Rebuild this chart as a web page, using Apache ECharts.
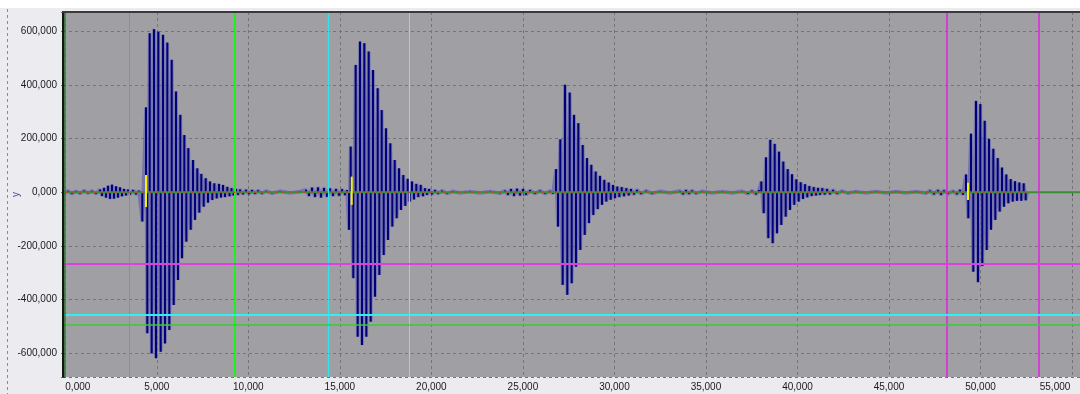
<!DOCTYPE html>
<html>
<head>
<meta charset="utf-8">
<script src="https://cdn.jsdelivr.net/npm/echarts@6/dist/echarts.min.js"></script>
<style>
  html, body { margin: 0; padding: 0; background: #ecebf0; }
  #chart { width: 1080px; height: 394px; }
</style>
</head>
<body>
<div id="chart"></div>
<script>
// Recorded waveform: [time, amplitude] peaks, both in thousands.
const noiseA = [[0.000,0],[0.148,5],[0.366,-6],[0.585,4],[0.803,-5],[1.022,6],[1.240,-4],[1.459,5],[1.677,-6],[1.896,10],[2.005,-14],[2.114,16],[2.224,-20],[2.333,24],[2.442,-25],[2.551,28],[2.661,-24],[2.770,22],[2.879,-20],[2.988,18],[3.098,-15],[3.207,12],[3.316,-12],[3.426,10],[3.535,-9],[3.699,8],[3.863,-8],[4.026,6]];
const burst1 = [[4.207,-109],[4.409,316],[4.480,-525],[4.611,592],[4.720,-600],[4.846,607],[4.955,-618],[5.081,598],[5.212,-594],[5.338,586],[5.447,-563],[5.573,557],[5.682,-513],[5.813,493],[5.922,-420],[6.048,375],[6.157,-327],[6.283,288],[6.376,-246],[6.501,213],[6.611,-184],[6.720,164],[6.851,-140],[6.977,120],[7.086,-103],[7.212,89],[7.321,-76],[7.430,68],[7.561,-54],[7.670,52],[7.796,-39],[7.905,40],[8.031,-29],[8.140,33],[8.271,-23],[8.397,31],[8.506,-20],[8.616,27],[8.725,-18],[8.851,20],[8.971,-15],[9.080,15],[9.189,-12],[9.326,12]];
const noiseB = [[9.435,-10],[9.545,10],[9.709,-8],[9.873,9],[10.037,-7],[10.200,8],[10.364,-6],[10.528,7],[10.747,-5],[10.965,5],[11.293,-4],[11.730,4],[12.276,-3],[12.822,3],[13.149,9],[13.313,-14],[13.477,17],[13.641,-18],[13.805,18],[13.969,-20],[14.133,16],[14.297,-17],[14.461,14],[14.625,-14],[14.789,12],[14.953,-13],[15.117,11],[15.281,-11],[15.390,8]];
const burst2 = [[15.499,-140],[15.592,170],[15.734,-320],[15.865,474],[15.975,-538],[16.100,561],[16.210,-569],[16.335,555],[16.445,-538],[16.575,524],[16.685,-482],[16.810,455],[16.920,-389],[17.067,387],[17.155,-308],[17.286,306],[17.395,-234],[17.521,238],[17.630,-178],[17.756,182],[17.865,-128],[17.996,120],[18.105,-97],[18.231,89],[18.340,-66],[18.466,64],[18.575,-51],[18.706,50],[18.815,-35],[18.941,40],[19.050,-27],[19.176,31],[19.285,-18],[19.416,27],[19.542,-15],[19.651,15],[19.761,-10],[19.870,12]];
const noiseC = [[20.034,-8],[20.198,8],[20.362,-6],[20.580,6],[20.853,-5],[21.181,4],[21.563,-3],[22.110,3],[22.656,-3],[23.202,3],[23.749,-4],[24.022,6],[24.186,-10],[24.350,12],[24.514,-14],[24.678,13],[24.842,-12],[25.005,12],[25.169,-10],[25.388,8],[25.661,-6],[25.935,6],[26.208,-6],[26.481,5],[26.645,-6]];
const burst3 = [[26.808,86],[26.917,-128],[27.043,197],[27.174,-345],[27.300,400],[27.426,-382],[27.557,371],[27.666,-339],[27.792,288],[27.901,-277],[28.027,257],[28.136,-215],[28.267,176],[28.376,-159],[28.502,127],[28.611,-115],[28.737,102],[28.846,-85],[28.977,77],[29.087,-63],[29.212,61],[29.322,-47],[29.447,46],[29.556,-35],[29.688,36],[29.797,-28],[29.922,27],[30.032,-22],[30.157,21],[30.267,-18],[30.398,19]];
const noiseD = [[30.523,-15],[30.649,15],[30.780,-12],[30.906,12],[31.070,-9],[31.234,9],[31.452,-7],[31.725,6],[32.053,-5],[32.490,4],[33.036,-3],[33.583,5],[33.747,-8],[33.911,8],[34.075,-7],[34.239,7],[34.457,-5],[34.785,4],[35.331,-3],[35.877,3],[36.424,-3],[36.970,4],[37.298,-6],[37.516,6],[37.735,-8],[37.899,8]];
const burst4 = [[38.025,40],[38.156,-78],[38.281,130],[38.407,-171],[38.516,195],[38.647,-190],[38.757,180],[38.882,-153],[38.992,151],[39.117,-122],[39.226,114],[39.357,-91],[39.467,86],[39.593,-66],[39.702,67],[39.827,-47],[39.937,48],[40.068,-35],[40.177,37],[40.303,-25],[40.412,30],[40.538,-19],[40.647,23],[40.778,-14],[40.888,19],[41.013,-12],[41.122,16],[41.232,-10],[41.357,15]];
const noiseE = [[41.488,-9],[41.613,12],[41.777,-8],[41.941,9],[42.159,-6],[42.432,5],[42.760,-4],[43.197,3],[43.744,-3],[44.290,3],[44.836,-3],[45.383,3],[45.929,-3],[46.475,3],[47.021,-4],[47.240,6],[47.458,-8],[47.677,8],[47.841,-10],[48.005,7],[48.224,-6],[48.497,5],[48.715,-8],[48.879,9],[49.043,-10]];
const burst5 = [[49.208,66],[49.334,-97],[49.481,218],[49.607,-296],[49.754,340],[49.864,-335],[49.989,328],[50.098,-275],[50.230,266],[50.339,-215],[50.465,198],[50.574,-140],[50.700,162],[50.809,-103],[50.940,127],[51.049,-72],[51.175,92],[51.284,-54],[51.410,66],[51.519,-41],[51.650,49],[51.760,-35],[51.885,41],[51.994,-32],[52.120,36],[52.229,-32],[52.360,33],[52.470,-30],[52.550,0]];

// Trigger markers: [time, top, bottom]
const triggers = [[4.409,64,-55],[15.647,58,-47],[49.317,35,-29]];

// Cursor positions
const xCursors = [3.497, 9.233, 14.336, 18.794, 48.154, 53.158];
const xCursorColors = ['#3cc83c', '#1ef01e', '#30e4ee', '#86dcdc', '#e020e0', '#e020e0'];
const xCursorWidths = [1, 2, 1.3, 1, 1.5, 1.5];
const yCursors = [-267, -454.4, -494.2];
const yCursorColors = ['#e040e0', '#30f0f0', '#30d030'];
const yCursorWidths = [2, 2, 1.5];

// Axis extents and label steps
const xRange = [-0.126, 55.436];
const yRange = [-688, 671];
const xLabelStep = 5;
const yLabelStep = 200;

const signal = [].concat(noiseA, burst1, noiseB, burst2, noiseC, burst3, noiseD, burst4, noiseE, burst5);

const fmt = v => v.toFixed(3).replace('.', ',');
const isStep = (v, s) => Math.abs(v / s - Math.round(v / s)) < 1e-6;

const chart = echarts.init(document.getElementById('chart'), null, { renderer: 'canvas' });

const axisFont = { fontFamily: 'Liberation Sans', fontSize: 10, color: '#1a1a1a' };

chart.setOption({
  animation: false,
  backgroundColor: '#ecebf0',
  grid: {
    left: 63, right: 0, top: 12, bottom: 17,
    outerBoundsMode: 'none',
    containLabel: false,
    show: true, backgroundColor: '#a0a0a4', borderWidth: 0
  },
  xAxis: {
    type: 'value',
    min: xRange[0], max: xRange[1],
    splitNumber: 11,
    axisLine: { show: false },
    axisTick: { show: true, length: 4, lineStyle: { color: '#505050' } },
    splitLine: { show: true, lineStyle: { color: '#747474', type: [3, 3], width: 1 } },
    axisLabel: Object.assign({}, axisFont, {
      margin: 5,
      formatter: v => {
        if (!isStep(v, xLabelStep)) return '';
        const s = fmt(v);
        if (Math.abs(v) < 1e-9) return '{l|' + s + '}';
        if (Math.abs(v - 55) < 1e-9) return '{r|' + s + '}';
        return s;
      },
      rich: {
        l: Object.assign({}, axisFont, { padding: [0, 0, 0, 25] }),
        r: Object.assign({}, axisFont, { padding: [0, 34, 0, 0] })
      }
    })
  },
  yAxis: {
    type: 'value',
    min: yRange[0], max: yRange[1],
    splitNumber: 7,
    name: 'y',
    nameLocation: 'middle',
    nameRotate: 90,
    nameGap: 42,
    nameMoveOverlap: false,
    nameTextStyle: { color: '#4848a8', fontFamily: 'Liberation Sans', fontSize: 10 },
    axisLine: { show: false },
    axisTick: { show: true, length: 4, lineStyle: { color: '#404040' } },
    splitLine: { show: true, lineStyle: { color: '#747474', type: [3, 3], width: 1 } },
    axisLabel: Object.assign({}, axisFont, {
      margin: 6,
      formatter: v => isStep(v, yLabelStep) ? fmt(v) : ''
    })
  },
  graphic: [
    { type: 'rect', z: 0, silent: true, shape: { x: 0, y: 0, width: 1080, height: 8 }, style: { fill: '#ffffff' } },
    { type: 'line', z: 0, silent: true, shape: { x1: 7.5, y1: 9, x2: 7.5, y2: 394 }, style: { stroke: '#8c8c8c', lineWidth: 1, lineDash: [3, 3] } },
    { type: 'rect', z: 100, silent: true, shape: { x: 62, y: 11, width: 2.5, height: 366 }, style: { fill: '#101a10' } },
    { type: 'rect', z: 100, silent: true, shape: { x: 64.5, y: 11, width: 1.2, height: 366 }, style: { fill: '#2e8c2e' } },
    { type: 'rect', z: 100, silent: true, shape: { x: 62, y: 11, width: 1018, height: 2 }, style: { fill: '#3a3a3a' } }
  ],
  series: [
    {
      // oscillation trace, drawn as a soft band under the peak strokes
      type: 'line',
      data: signal,
      showSymbol: false,
      z: 2,
      lineStyle: { color: 'rgba(88,88,178,0.6)', width: 3.6, join: 'bevel' }
    },
    {
      // peak strokes from the baseline
      type: 'custom',
      data: signal,
      encode: { x: 0, y: 1 },
      z: 3,
      renderItem: (params, api) => {
        const t = api.value(0), v = api.value(1);
        const p0 = api.coord([t, 0]);
        const p1 = api.coord([t, v]);
        return {
          type: 'line',
          shape: { x1: p0[0], y1: p0[1], x2: p1[0], y2: p1[1] },
          style: { stroke: '#00007a', lineWidth: 2 }
        };
      }
    },
    {
      // zero line
      type: 'line',
      data: [[xRange[0], 0], [xRange[1], 0]],
      showSymbol: false,
      z: 4,
      lineStyle: { color: '#3a8f3a', width: 2 }
    },
    {
      type: 'line',
      data: [[0, 0], [52.55, 0]],
      showSymbol: false,
      z: 5,
      lineStyle: { color: '#b8483c', width: 1.5, type: [2, 5] }
    },
    {
      // trigger markers
      type: 'custom',
      data: triggers,
      encode: { x: 0, y: [1, 2] },
      z: 6,
      renderItem: (params, api) => {
        const t = api.value(0);
        const a = api.coord([t, api.value(1)]);
        const b = api.coord([t, api.value(2)]);
        return {
          type: 'line',
          shape: { x1: a[0], y1: a[1], x2: b[0], y2: b[1] },
          style: { stroke: '#f4f400', lineWidth: 2 }
        };
      }
    },
    {
      // cursors
      type: 'line',
      data: [],
      z: 7,
      markLine: {
        silent: true,
        symbol: ['none', 'none'],
        label: { show: false },
        animation: false,
        data: xCursors.map((x, i) => ({ xAxis: x, lineStyle: { color: xCursorColors[i], width: xCursorWidths[i], type: 'solid' } }))
          .concat(yCursors.map((y, i) => ({ yAxis: y, lineStyle: { color: yCursorColors[i], width: yCursorWidths[i], type: 'solid' } })))
      }
    }
  ]
});
</script>
</body>
</html>
